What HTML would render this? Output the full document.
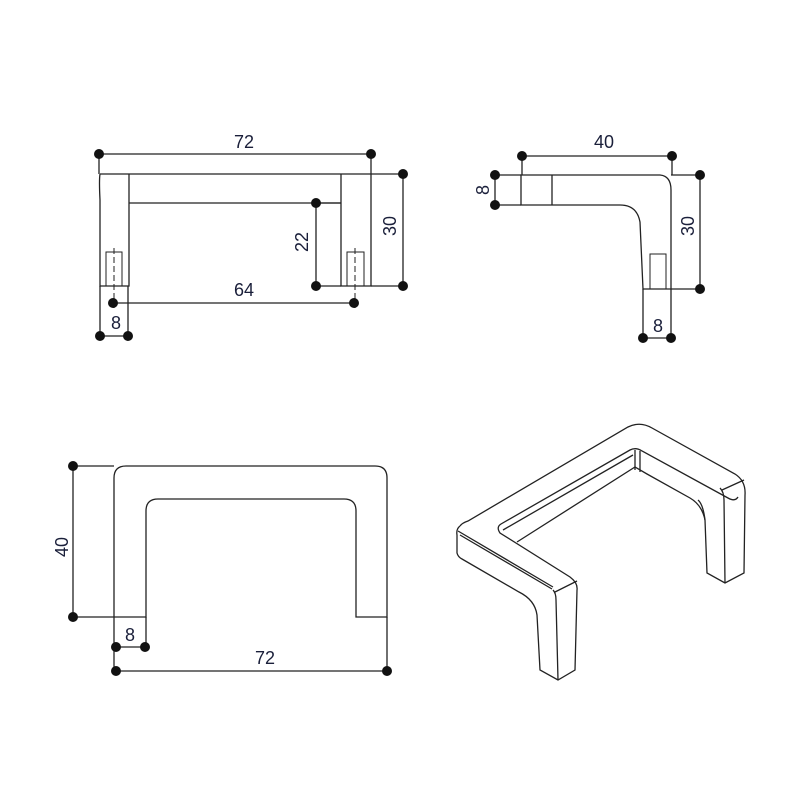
<!DOCTYPE html>
<html><head><meta charset="utf-8"><style>body{margin:0;background:#fff}svg{display:block}text{font-family:"Liberation Sans",sans-serif;font-size:18px;fill:#1a1f3a}</style></head><body>
<svg width="800" height="800" viewBox="0 0 800 800" xmlns="http://www.w3.org/2000/svg">
<g fill="none" stroke="#222" stroke-width="1.3">
<!-- Front view -->
<path d="M100,174 L371,174 M129,203 L341,203 M100,174 Q99,180 100,200 L100,286 L129,286 L129,174 M341,174 L341,286 L371,286 L371,174"/>
<rect x="106" y="252" width="16" height="34" stroke-width="1"/>
<rect x="347" y="252" width="17" height="34" stroke-width="1"/>
<path d="M114,248 V310 M355,248 V310" stroke-dasharray="6,3" stroke-width="1"/>
<path d="M99,154 H371 M99,154 V174 M371,154 V174 M371,174 H403 V286 H371 M341,203 H316 V286 H341 M114,303 H354 M100,286 V336 H128 V286"/>
<!-- Side view -->
<path d="M521,175 H660 Q671,176 671,190 V289 H643 L640,222 Q637,205 620,205 H521 Z M552,175 V205"/>
<rect x="650" y="254" width="16" height="35" stroke-width="1"/>
<path d="M522,156 H672 M522,156 V175 M672,156 V175 M495,175 H521 M495,175 V205 H521 M671,175 H700 V289 H671 M643,289 V338 H671 V289"/>
<!-- Top view -->
<path d="M114,617 V478 Q114,466 126,466 H375 Q387,466 387,478 V617 H356 V511 Q356,499 344,499 H158 Q146,499 146,511 V617 H114"/>
<path d="M73,466 H114 M73,466 V617 H114 M114,617 V671 H387 V617 M146,617 V647 H116"/>
<!-- Isometric -->
<path d="M460,526 Q462,523 468,521 L628,427 Q640,421 652,428 L735,474 Q746,481 745,495 L744,573 L725,583 L707,573 L705,520 Q702,505 690,498 L647,474 L635,467 L517,542"/>
<path d="M460,526 Q456,529 457,535 L457,553 Q458,557 462,559 L519,592 Q535,600 537,615 L540,670 L558,680 L575,670 L577,590 Q578,583 570,577 L500,533 Q496,527 501,524 L630,450 Q636,447 642,451 L728,498 Q735,502 738,497"/>
<path d="M460,535 L552,589 M458,531 L553,587 M553,590 Q556,593 556,600 L558,680 M555,592 L577,581 M720,488 Q724,492 724,500 L725,583 M722,490 L744,480 M635,450 V470 M640,451 V472 M633,455 L503,530 M698,500 Q703,504 705,520"/>
</g>
<g fill="#111">
<circle cx="99" cy="154" r="5"/><circle cx="371" cy="154" r="5"/><circle cx="403" cy="174" r="5"/><circle cx="403" cy="286" r="5"/><circle cx="316" cy="203" r="5"/><circle cx="316" cy="286" r="5"/><circle cx="113" cy="303" r="5"/><circle cx="354" cy="303" r="5"/><circle cx="100" cy="336" r="5"/><circle cx="128" cy="336" r="5"/>
<circle cx="522" cy="156" r="5"/><circle cx="672" cy="156" r="5"/><circle cx="495" cy="175" r="5"/><circle cx="495" cy="205" r="5"/><circle cx="700" cy="175" r="5"/><circle cx="700" cy="289" r="5"/><circle cx="643" cy="338" r="5"/><circle cx="671" cy="338" r="5"/>
<circle cx="73" cy="466" r="5"/><circle cx="73" cy="617" r="5"/><circle cx="116" cy="647" r="5"/><circle cx="145" cy="647" r="5"/><circle cx="116" cy="671" r="5"/><circle cx="387" cy="671" r="5"/>
</g>
<text x="244" y="148" text-anchor="middle">72</text>
<text x="244" y="296" text-anchor="middle">64</text>
<text x="116" y="329" text-anchor="middle">8</text>
<text transform="translate(308,242) rotate(-90)" text-anchor="middle">22</text>
<text transform="translate(396,226) rotate(-90)" text-anchor="middle">30</text>
<text x="604" y="148" text-anchor="middle">40</text>
<text transform="translate(489,190) rotate(-90)" text-anchor="middle">8</text>
<text transform="translate(694,226) rotate(-90)" text-anchor="middle">30</text>
<text x="658" y="332" text-anchor="middle">8</text>
<text transform="translate(68,547) rotate(-90)" text-anchor="middle">40</text>
<text x="130" y="641" text-anchor="middle">8</text>
<text x="265" y="664" text-anchor="middle">72</text>
</svg>
</body></html>
